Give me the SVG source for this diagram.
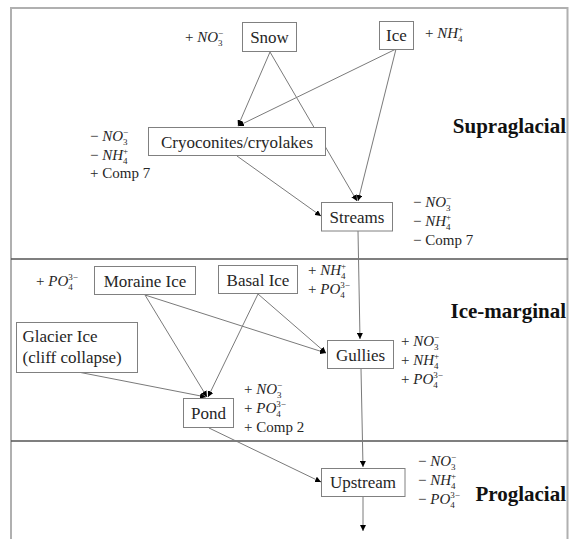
<svg xmlns="http://www.w3.org/2000/svg" width="570" height="539" viewBox="0 0 570 539">
<style>
.box{fill:#fff;stroke:#808080;stroke-width:1}
.nt{font-family:'Liberation Serif',serif;font-size:17px;fill:#262626;text-anchor:middle}
.lb{font-family:'Liberation Serif',serif;font-size:15px;fill:#262626}
.m{font-style:italic}
.s{font-size:9px}
.zone{font-family:'Liberation Serif',serif;font-size:21px;font-weight:bold;fill:#111;text-anchor:end}
.c{stroke:#7a7a7a;stroke-width:1;fill:none;marker-end:url(#ah)}
.frame{stroke:#b0b0b0;stroke-width:2;fill:none}
.sep{stroke:#555;stroke-width:1.5}
</style>
<defs>
<marker id="ah" markerUnits="userSpaceOnUse" markerWidth="6" markerHeight="6" refX="6" refY="3" orient="auto">
<path d="M0,0 L6,3 L0,6 z" fill="#000"/>
</marker>
</defs>
<g id="frame">
<path class="frame" d="M11,539 V8 H567.5 V539"/>
<line class="sep" x1="11" y1="259" x2="568" y2="259"/>
<line class="sep" x1="11" y1="441" x2="568" y2="441"/>
</g>
<g id="zones">
<text class="zone" x="566" y="133">Supraglacial</text>
<text class="zone" x="566" y="318">Ice-marginal</text>
<text class="zone" x="566" y="501">Proglacial</text>
</g>
<g id="connectors">
<line class="c" x1="270" y1="52" x2="238" y2="126"/>
<line class="c" x1="270" y1="52" x2="357" y2="201"/>
<line class="c" x1="396" y1="49" x2="238" y2="126"/>
<line class="c" x1="396" y1="49" x2="358" y2="201"/>
<line class="c" x1="237" y1="156" x2="321" y2="216"/>
<line class="c" x1="358" y1="231" x2="360" y2="339"/>
<line class="c" x1="145" y1="295" x2="207" y2="397"/>
<line class="c" x1="145" y1="295" x2="326" y2="353"/>
<line class="c" x1="258" y1="294" x2="208" y2="397"/>
<line class="c" x1="258" y1="294" x2="326" y2="353"/>
<line class="c" x1="78" y1="372" x2="206" y2="397"/>
<line class="c" x1="209" y1="428" x2="321" y2="482"/>
<line class="c" x1="361" y1="369" x2="363" y2="467"/>
<line class="c" x1="363" y1="497" x2="363" y2="531"/>
</g>
<g id="snow">
<rect class="box" x="242.5" y="22.5" width="54" height="29"/>
<text class="nt" x="269.5" y="43">Snow</text>
<text class="lb" x="185" y="42">+ <tspan class="m">NO</tspan><tspan class="s" dy="3.5">3</tspan><tspan class="s" dx="-4.5" dy="-9.5">−</tspan></text>
</g>
<g id="ice">
<rect class="box" x="379.5" y="21.5" width="34" height="28"/>
<text class="nt" x="396.5" y="41">Ice</text>
<text class="lb" x="425" y="38">+ <tspan class="m">NH</tspan><tspan class="s" dy="3.5">4</tspan><tspan class="s" dx="-4.5" dy="-9.5">+</tspan></text>
</g>
<g id="cryoconites">
<rect class="box" x="148.5" y="127.5" width="177" height="28"/>
<text class="nt" x="237" y="147.5">Cryoconites/cryolakes</text>
<text class="lb" x="90" y="141">− <tspan class="m">NO</tspan><tspan class="s" dy="3.5">3</tspan><tspan class="s" dx="-4.5" dy="-9.5">−</tspan></text>
<text class="lb" x="90" y="160">− <tspan class="m">NH</tspan><tspan class="s" dy="3.5">4</tspan><tspan class="s" dx="-4.5" dy="-9.5">+</tspan></text>
<text class="lb" x="90" y="178">+ Comp 7</text>
</g>
<g id="streams">
<rect class="box" x="321.5" y="202.5" width="71" height="28.5"/>
<text class="nt" x="357" y="223">Streams</text>
<text class="lb" x="413" y="207">− <tspan class="m">NO</tspan><tspan class="s" dy="3.5">3</tspan><tspan class="s" dx="-4.5" dy="-9.5">−</tspan></text>
<text class="lb" x="413" y="226">− <tspan class="m">NH</tspan><tspan class="s" dy="3.5">4</tspan><tspan class="s" dx="-4.5" dy="-9.5">+</tspan></text>
<text class="lb" x="413" y="245">− Comp 7</text>
</g>
<g id="moraine-ice">
<rect class="box" x="94.5" y="266.5" width="101" height="28"/>
<text class="nt" x="145" y="287">Moraine Ice</text>
<text class="lb" x="36" y="286">+ <tspan class="m">PO</tspan><tspan class="s" dy="3.5">4</tspan><tspan class="s" dx="-4.5" dy="-9.5">3−</tspan></text>
</g>
<g id="basal-ice">
<rect class="box" x="218.5" y="265.5" width="79" height="28"/>
<text class="nt" x="258" y="286">Basal Ice</text>
<text class="lb" x="308" y="275">+ <tspan class="m">NH</tspan><tspan class="s" dy="3.5">4</tspan><tspan class="s" dx="-4.5" dy="-9.5">+</tspan></text>
<text class="lb" x="308" y="294">+ <tspan class="m">PO</tspan><tspan class="s" dy="3.5">4</tspan><tspan class="s" dx="-4.5" dy="-9.5">3−</tspan></text>
</g>
<g id="gullies">
<rect class="box" x="327.5" y="340.5" width="66" height="28"/>
<text class="nt" x="360.5" y="361">Gullies</text>
<text class="lb" x="401" y="346">+ <tspan class="m">NO</tspan><tspan class="s" dy="3.5">3</tspan><tspan class="s" dx="-4.5" dy="-9.5">−</tspan></text>
<text class="lb" x="401" y="365">+ <tspan class="m">NH</tspan><tspan class="s" dy="3.5">4</tspan><tspan class="s" dx="-4.5" dy="-9.5">+</tspan></text>
<text class="lb" x="401" y="384">+ <tspan class="m">PO</tspan><tspan class="s" dy="3.5">4</tspan><tspan class="s" dx="-4.5" dy="-9.5">3−</tspan></text>
</g>
<g id="glacier-ice">
<rect class="box" x="16.5" y="322.5" width="121" height="50"/>
<text class="nt" x="22.5" y="342" style="text-anchor:start">Glacier Ice</text>
<text class="nt" x="22.5" y="363" style="text-anchor:start">(cliff collapse)</text>
</g>
<g id="pond">
<rect class="box" x="183.5" y="398.5" width="50" height="29"/>
<text class="nt" x="208.5" y="419">Pond</text>
<text class="lb" x="244" y="394">+ <tspan class="m">NO</tspan><tspan class="s" dy="3.5">3</tspan><tspan class="s" dx="-4.5" dy="-9.5">−</tspan></text>
<text class="lb" x="244" y="413">+ <tspan class="m">PO</tspan><tspan class="s" dy="3.5">4</tspan><tspan class="s" dx="-4.5" dy="-9.5">3−</tspan></text>
<text class="lb" x="244" y="432">+ Comp 2</text>
</g>
<g id="upstream">
<rect class="box" x="321.5" y="468.5" width="83.5" height="28"/>
<text class="nt" x="363" y="488">Upstream</text>
<text class="lb" x="418" y="466">− <tspan class="m">NO</tspan><tspan class="s" dy="3.5">3</tspan><tspan class="s" dx="-4.5" dy="-9.5">−</tspan></text>
<text class="lb" x="418" y="485">− <tspan class="m">NH</tspan><tspan class="s" dy="3.5">4</tspan><tspan class="s" dx="-4.5" dy="-9.5">+</tspan></text>
<text class="lb" x="418" y="504">− <tspan class="m">PO</tspan><tspan class="s" dy="3.5">4</tspan><tspan class="s" dx="-4.5" dy="-9.5">3−</tspan></text>
</g>
</svg>
